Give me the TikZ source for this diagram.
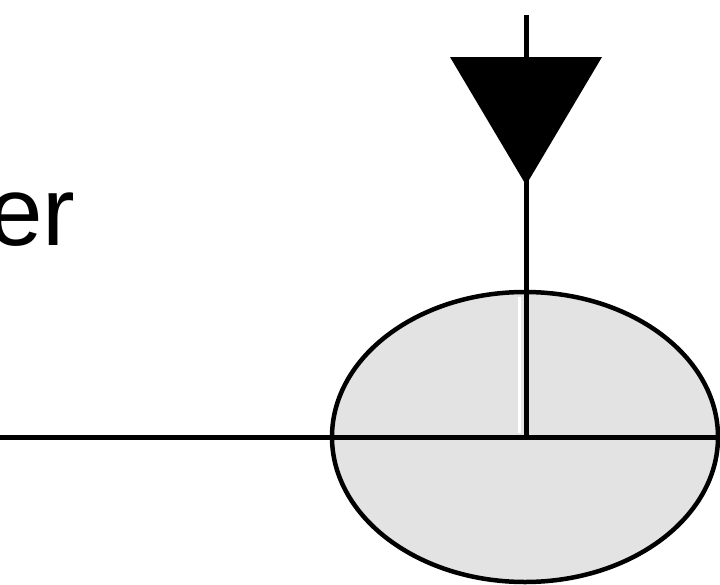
\documentclass[tikz,border=0pt]{standalone}
\usepackage{fontspec}
\setmainfont{Liberation Sans}
\usetikzlibrary{shapes.geometric}
\definecolor{ellgray}{HTML}{E3E3E3}
\tikzset{
  stroke/.style={line width=5pt, draw=black},
  labeltext/.style={inner sep=0pt, anchor=base west, font=\fontsize{98}{112}\selectfont},
  ellbody/.style={ellipse, draw=black, line width=4.5pt, fill=ellgray, minimum width=386pt, minimum height=290pt, inner sep=0pt}
}
\begin{document}
\begin{tikzpicture}[x=1pt,y=-1pt]
\useasboundingbox (0,0) rectangle (720,584);
% ellipse
\node[ellbody] (ell) at (525,437) {};
% coordinates
\coordinate (hleft) at (-5,437);
\coordinate (hright) at (725,437);
\coordinate (vtop) at (526,15);
\coordinate (vbot) at (526,437);
\coordinate (tl) at (450,57);
\coordinate (tr) at (602,57);
\coordinate (tapex) at (526,185);
% faint white halo next to the vertical line inside ellipse
\draw[white, line width=2.5pt] (519.5,297) -- (519.5,433);
% horizontal line
\draw[stroke] (hleft) -- (hright);
% vertical line
\draw[stroke] (vtop) -- (vbot);
% triangle
\fill[black] (tl) -- (tr) -- (tapex) -- cycle;
% text
\node[labeltext] (lbl) at (-12,245) {er};
\end{tikzpicture}
\end{document}
